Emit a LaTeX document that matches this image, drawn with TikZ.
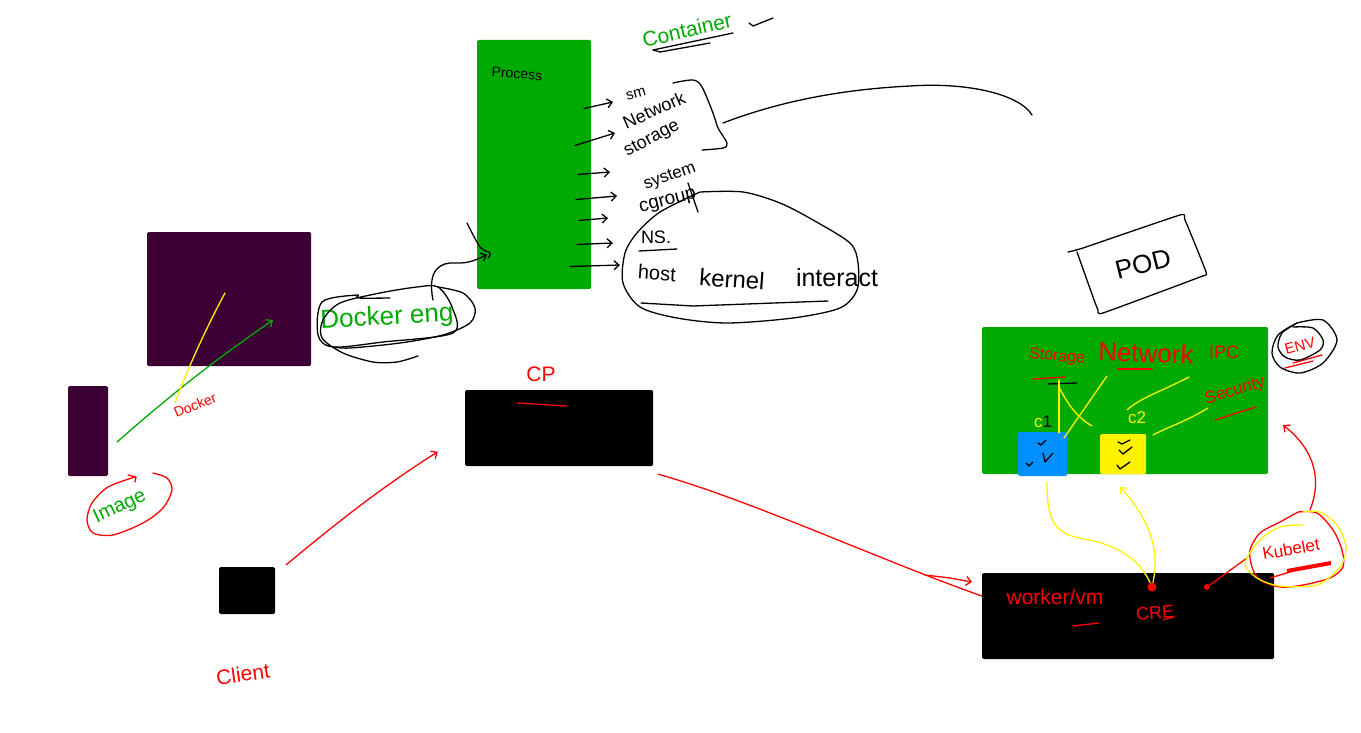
\documentclass[tikz,border=0pt]{standalone}
\usepackage{fontspec}
\setmainfont{Liberation Sans}
\usepackage{tikz}
\usetikzlibrary{arrows.meta}
\definecolor{boxgreen}{RGB}{0,170,0}
\definecolor{boxpurple}{RGB}{60,0,53}
\definecolor{boxblue}{RGB}{0,144,255}
\definecolor{inkgreen}{RGB}{0,170,0}
\tikzstyle{block}=[rectangle,rounded corners=1.5pt,inner sep=0pt]
\tikzstyle{note}=[inner sep=0pt]
\tikzstyle{pen}=[line width=1.3pt,line cap=round,line join=round]
\tikzstyle{redpen}=[pen,red]
\tikzstyle{greenpen}=[pen,inkgreen]
\tikzstyle{yellowpen}=[pen,yellow]
\tikzstyle{dot}=[circle,fill=red,inner sep=0pt]
\newcommand{\hand}[1]{\fontsize{#1}{#1}\selectfont}
\begin{document}
\begin{tikzpicture}[x=1pt,y=-1pt,>={Straight Barb[length=5pt,width=9pt]}]
  \useasboundingbox (0,0) rectangle (1361,733);
  % boxes
  \node[block,fill=boxpurple,minimum width=164pt,minimum height=134pt] (dockerbox) at (229,299) {};
  \node[block,fill=boxpurple,minimum width=40pt,minimum height=90pt] (img) at (88,431) {};
  \node[block,fill=boxgreen,minimum width=114pt,minimum height=249pt] (process) at (534,164.5) {};
  \node[block,fill=black,minimum width=188pt,minimum height=76pt] (cp) at (559,428) {};
  \node[block,fill=black,minimum width=56pt,minimum height=47pt] (client) at (247,590.5) {};
  \node[block,fill=boxgreen,minimum width=286pt,minimum height=147pt] (pod) at (1125,400.5) {};
  \node[block,fill=boxblue,minimum width=49pt,minimum height=44pt] (cone) at (1042.5,454) {};
  \node[block,fill=yellow,minimum width=46pt,minimum height=40pt,right of=cone,node distance=80.5pt] (ctwo) {};
  \node[block,fill=black,minimum width=292pt,minimum height=86pt] (worker) at (1128,616) {};
  % left side
  \node[note,red,rotate=22] (dockerlabel) at (195,405) {\hand{14}Docker};
  \node[note,inkgreen,rotate=25] (imglabel) at (120,507) {\hand{20}Image};
  \node[note,red,rotate=8] (clientlabel) at (243,674) {\hand{21}Client};
  \node[note,inkgreen,rotate=3] (engine) at (387,318) {\hand{26}Docker eng};
  \node[note,red] (cplabel) at (541,374) {\hand{21}CP};
  \draw[greenpen,->] ([shift={(-3,-65)}]imglabel.center) .. controls (190,378) and (230,350) .. ([shift={(44,21)}]dockerbox.center);
  \draw[yellowpen] ([shift={(-20,-2)}]dockerlabel.center) .. controls (185,375) and (205,330) .. ([shift={(-4,-6)}]dockerbox.center);
  \draw[redpen] plot[smooth] coordinates {(153,473) (167,478) (172,490) (163,508) (143,523) (113,535) (93,533) (87,520) (92,503) (108,487) (135,477)};
  \draw[redpen] (128,475) -- (136,477) -- (135,482);
  \draw[pen] plot[smooth] coordinates {(390,298) (358,298) (357,295) (322,302) (318,335) (333,347) (383,342) (453,333) (452,307) (438,287) (417,287) (380,293) (340,303) (323,320) (322,338) (343,353) (373,362) (397,362) (418,356)};
  \draw[pen] plot[smooth] coordinates {(438,287) (463,293) (475,308) (470,323) (443,335) (400,343) (350,348) (333,347)};
  \draw[pen,->] ([shift={(46,-18)}]engine.center) .. controls (427,270) and (440,262) .. (455,263) .. controls (470,264) and (480,258) .. ([shift={(-47,90)}]process.center);
  \draw[pen] plot[smooth] coordinates {(467,223) (480,247) (490,253) (488,258)};
  \draw[redpen,->] ([shift={(11,-2)}]client.north east) .. controls (340,520) and (385,485) .. ([shift={(-27,62)}]cp.north west);
  \draw[redpen] (517,403) -- (567,406);
  \draw[redpen] ([shift={(5,8)}]cp.south east) .. controls (750,500) and (880,560) .. ([shift={(0,-20)}]worker.west);
  \draw[redpen,->] (925,575) -- (950,578) -- (972,582);
  % process and what it holds
  \node[note,rotate=-4] (proclabel) at (517,74) {\hand{14}Process};
  \node[note,inkgreen,rotate=13] (container) at (687,30) {\hand{21}Container};
  \node[note,rotate=15] (sm) at (636,94) {\hand{15}sm};
  \node[note,rotate=24] (network) at (654,110) {\hand{18}Network};
  \node[note,rotate=28] (storage) at (652,139) {\hand{18}storage};
  \node[note,rotate=20] (system) at (670,177) {\hand{17}system};
  \node[note,rotate=14] (cgroup) at (668,202) {\hand{19}cgroup};
  \node[note] (ns) at (656,237) {\hand{18}NS.};
  \node[note,rotate=-4] (host) at (657,273) {\hand{20}host};
  \node[note,rotate=-4] (kernel) at (732,279) {\hand{24}kernel};
  \node[note] (interact) at (837,278) {\hand{25}interact};
  \draw[pen,->] ([shift={(50,-56)}]process.center) -- ([shift={(-23,8)}]sm.center);
  \draw[pen,->] ([shift={(41,-19)}]process.center) -- ([shift={(-39,23)}]network.center);
  \draw[pen,->] ([shift={(44,10)}]process.center) -- ([shift={(-60,-5)}]system.center);
  \draw[pen,->] ([shift={(42,35)}]process.center) -- ([shift={(-51,-6)}]cgroup.center);
  \draw[pen,->] ([shift={(45,56)}]process.center) -- ([shift={(-60,16)}]cgroup.center);
  \draw[pen,->] ([shift={(43,80)}]process.center) -- ([shift={(-43,6)}]ns.center);
  \draw[pen,->] ([shift={(36,102)}]process.center) -- ([shift={(-37,-8)}]host.center);
  \draw[pen] (653,50) -- (733,33);
  \draw[pen] (653,50) -- (660,52) -- (710,43);
  \draw[pen] (749,23) -- (753,26) -- (773,18);
  \draw[pen] plot[smooth] coordinates {(673,83) (693,80) (702,87) (713,113) (718,128) (727,143) (723,148) (702,150)};
  \coordinate (braceout) at (723,123);
  \coordinate (freeend) at (1032,115);
  \draw[pen] (braceout) .. controls (770,105) and (830,90) .. (910,86) .. controls (970,82) and (1020,95) .. (freeend);
  \draw[pen] (688,183) -- (698,212);
  \draw[pen] (639,251) -- (677,249);
  \draw[pen] (641,303) -- (693,306) -- (828,301);
  \draw[pen] plot[smooth] coordinates {(700,192) (743,192) (780,203) (813,220) (850,243) (858,263) (857,290) (840,308) (793,318) (727,323) (677,318) (640,307) (623,283) (625,253) (637,233) (660,212) (700,192)};
  % pod
  \node[note,rotate=14] (podlabel) at (1143,264) {\hand{26}POD};
  \draw[pen] plot[smooth,tension=.25] coordinates {(1068,252) (1083,248) (1180,215) (1185,220) (1206,272) (1200,277) (1103,313) (1098,310) (1093,297) (1077,252)};
  \node[note,red,rotate=-5] (storlabel) at (1057,357) {\hand{16}Storage};
  \node[note,red,rotate=-2] (netlabel) at (1146,353) {\hand{26}Network};
  \node[note,red] (ipclabel) at (1224,352) {\hand{18}IPC};
  \node[note,red,rotate=17] (seclabel) at (1235,391) {\hand{17}Security};
  \node[note,red,rotate=15] (envlabel) at (1300,346) {\hand{15}ENV};
  \node[note,yellow] (conelabel) at (1043,422) {\hand{17}c\textcolor{black}{1}};
  \node[note,yellow] (ctwolabel) at (1137,418) {\hand{17}c2};
  \draw[redpen] (1033,379) -- (1065,377);
  \draw[pen] (1048,384) -- (1077,383);
  \draw[redpen] (1118,369) -- (1152,369);
  \draw[redpen] (1215,420) -- (1256,407);
  \draw[redpen] (1285,368) -- (1313,361);
  \draw[redpen] (1293,363) -- (1322,355);
  \draw[yellowpen] ([shift={(2,23)}]storlabel.center) -- ([shift={(16.5,-21)}]cone.center);
  \draw[yellowpen] ([shift={(2,30)}]storlabel.center) .. controls (1068,405) and (1078,418) .. (1092,426);
  \draw[yellowpen] ([shift={(-39,23)}]netlabel.center) -- ([shift={(21.5,-16)}]cone.center);
  \draw[yellowpen] ([shift={(-35,25)}]ipclabel.center) .. controls (1160,392) and (1140,398) .. ([shift={(-10,-8)}]ctwolabel.center);
  \draw[yellowpen] ([shift={(-27,17)}]seclabel.center) .. controls (1185,422) and (1170,426) .. ([shift={(30,-19)}]ctwo.center);
  \draw[pen] plot[smooth] coordinates {(1297,323) (1323,320) (1337,340) (1323,363) (1300,373) (1280,367) (1272,353) (1278,335) (1297,323)};
  \draw[pen] plot[smooth] coordinates {(1293,327) (1313,328) (1323,340) (1320,350) (1300,360) (1285,357) (1278,347) (1282,333) (1297,323)};
  \draw[pen] (1038,443) -- (1041,445) -- (1046,440);
  \draw[pen] (1043,453) -- (1045,462) -- (1053,453);
  \draw[pen] (1026,463) -- (1029,466) -- (1033,462);
  \draw[pen] (1118,442) -- (1122,444) -- (1130,440);
  \draw[pen] (1119,450) -- (1123,454) -- (1132,447);
  \draw[pen] (1117,465) -- (1120,469) -- (1130,462);
  % worker
  \node[note,red] (workerlabel) at (1055,597) {\hand{21}worker/vm};
  \node[note,red,rotate=5] (crelabel) at (1155,613) {\hand{18}CRE};
  \node[note,red,rotate=10] (kubelet) at (1291,549) {\hand{17}Kubelet};
  \node[dot,minimum size=9pt] (cridot) at (1152,587) {};
  \node[dot,minimum size=6pt] (kubedot) at (1207,587) {};
  \draw[redpen] (1073,626) -- (1099,623);
  \draw[redpen] (1163,620) -- (1174,617);
  \draw[yellowpen] ([shift={(4.5,29)}]cone.center) .. controls (1047,530) and (1060,535) .. (1090,540) .. controls (1120,547) and (1140,560) .. (cridot);
  \draw[yellowpen,->] (cridot) .. controls (1160,550) and (1150,520) .. ([shift={(-3,33)}]ctwo.center);
  \draw[redpen] (kubedot) -- ([shift={(-44,9)}]kubelet.center);
  \draw[redpen,->] ([shift={(19,-39)}]kubelet.center) .. controls (1322,480) and (1315,450) .. (1283,425);
  \draw[redpen] plot[smooth] coordinates {(1298,512) (1317,513) (1333,530) (1342,550) (1343,567) (1330,578) (1303,585) (1280,587) (1260,580) (1252,567) (1250,550) (1260,533) (1280,522) (1298,512)};
  \draw[yellowpen] plot[smooth] coordinates {(1303,525) (1280,527) (1260,540) (1245,563) (1257,578) (1280,586) (1317,585) (1340,567) (1346,547) (1337,525) (1320,512) (1303,512)};
  \draw[redpen] (1270,578) -- (1290,572);
  \draw[red,line width=4pt] (1287,571) -- (1331,563);
\end{tikzpicture}
\end{document}
